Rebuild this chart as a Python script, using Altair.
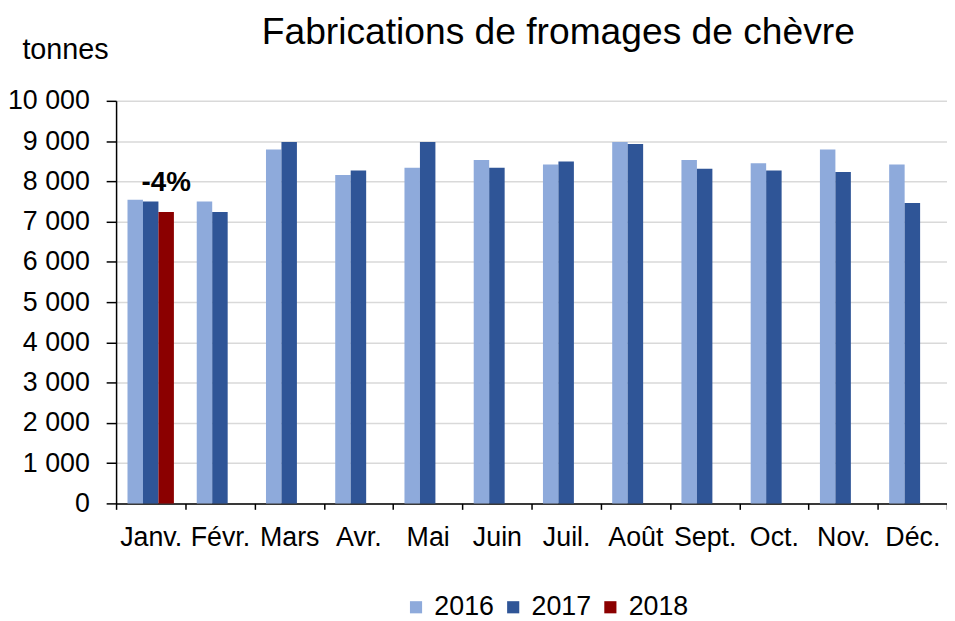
import altair as alt
import pandas as pd

months = ["Janv.", "Févr.", "Mars", "Avr.", "Mai", "Juin", "Juil.", "Août", "Sept.", "Oct.", "Nov.", "Déc."]
v2016 = [7540, 7500, 8790, 8160, 8340, 8530, 8420, 8980, 8530, 8450, 8790, 8420]
v2017 = [7500, 7240, 8980, 8270, 8980, 8340, 8490, 8930, 8310, 8270, 8230, 7460]
v2018_months = ["Janv."]
v2018 = [7240]
years = ["2016", "2017", "2018"]
colors = ["#8EAADB", "#2F5597", "#8B0000"]
annot_month = ["Janv."]
annot_year = ["2018"]
annot_value = [7240]
annot_text = ["-4%"]

rows = []
for m, a, b in zip(months, v2016, v2017):
    rows.append({"month": m, "year": "2016", "value": a})
    rows.append({"month": m, "year": "2017", "value": b})
for m, c in zip(v2018_months, v2018):
    rows.append({"month": m, "year": "2018", "value": c})
df = pd.DataFrame(rows)
annot = pd.DataFrame({"month": annot_month, "year": annot_year, "value": annot_value, "label": annot_text})

FONT = "Liberation Sans"

x_enc = alt.X("month:N", sort=months,
              scale=alt.Scale(domain=months, paddingInner=0, paddingOuter=0),
              axis=alt.Axis(title=None, tickBand="extent", labelAngle=0, labelFontSize=27,
                            labelFont=FONT, labelColor="black", labelPadding=15,
                            domainColor="black", domainWidth=1.5, tickColor="black",
                            tickWidth=1.5, tickSize=6, grid=False))
xoff_enc = alt.XOffset("year:N", scale=alt.Scale(domain=years, paddingInner=0, paddingOuter=0.738))
y_enc = alt.Y("value:Q",
              scale=alt.Scale(domain=[0, 10000], nice=False),
              axis=alt.Axis(values=list(range(0, 10001, 1000)),
                            labelExpr="replace(format(datum.value, ','), ',', ' ')",
                            labelFontSize=27, labelFont=FONT, labelColor="black", labelPadding=17,
                            tickSize=10, tickColor="black", tickWidth=1.5,
                            domainColor="black", domainWidth=1.5,
                            gridColor="#D9D9D9", gridWidth=1.5,
                            title="tonnes", titleAngle=0, titleAlign="left", titleBaseline="alphabetic",
                            titleX=-95, titleY=-43, titleFontSize=29, titleFont=FONT,
                            titleFontWeight="normal", titleColor="black"))

bars = alt.Chart(df).mark_bar().encode(
    x=x_enc,
    xOffset=xoff_enc,
    y=y_enc,
    color=alt.Color("year:N", scale=alt.Scale(domain=years, range=colors),
                    legend=alt.Legend(title=None, orient="none", direction="horizontal",
                                      legendX=289, legendY=497, symbolType="square",
                                      symbolSize=150, symbolStrokeWidth=0, labelFontSize=27,
                                      labelFont=FONT, labelColor="black", columnPadding=5,
                                      symbolOffset=0, labelOffset=5)),
)

text = alt.Chart(annot).mark_text(font=FONT, fontSize=28, fontWeight="bold", baseline="alphabetic",
                                  dy=-21, dx=0, color="black").encode(
    x=alt.X("month:N", sort=months),
    xOffset=alt.XOffset("year:N", scale=alt.Scale(domain=years)),
    y=alt.Y("value:Q"),
    text="label:N",
)

chart = alt.layer(bars, text).properties(
    width=838, height=406,
    title=alt.TitleParams("Fabrications de fromages de chèvre", fontSize=37.5, font=FONT,
                          fontWeight="normal", color="black", anchor="middle", dx=27, dy=20),
    autosize=alt.AutoSizeParams(type="none"),
    padding={"left": 109, "top": 91, "right": 0, "bottom": 118},
).configure_view(stroke=None)

chart.save("out.html", embed_options={"renderer": "svg", "actions": False})
